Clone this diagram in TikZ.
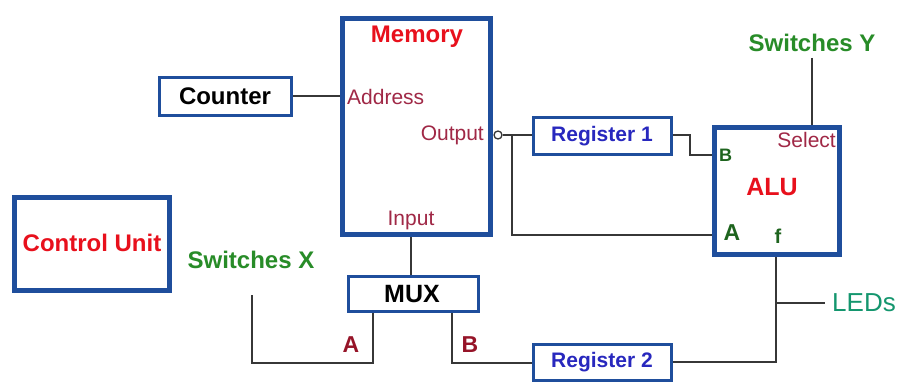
\documentclass[tikz,border=0pt]{standalone}
\usepackage{fontspec}
\setmainfont{Liberation Sans}
\definecolor{boxblue}{RGB}{31,78,156}
\definecolor{txtred}{RGB}{232,16,28}
\definecolor{swgreen}{RGB}{40,140,40}
\definecolor{portpink}{RGB}{160,40,70}
\definecolor{alugreen}{RGB}{30,100,30}
\definecolor{muxred}{RGB}{150,20,40}
\definecolor{regblue}{RGB}{40,40,190}
\definecolor{ledteal}{RGB}{20,150,110}
\definecolor{wire}{RGB}{55,55,55}
\tikzset{
  thickbox/.style={draw=boxblue, line width=5pt, fill=white, inner sep=0pt},
  thinbox/.style={draw=boxblue, line width=2.6pt, fill=white, inner sep=0pt},
  wireline/.style={draw=wire, line width=2pt},
  bigbold/.style={font=\fontsize{24}{26}\selectfont\bfseries, inner sep=0pt},
  regbold/.style={font=\fontsize{21}{23}\selectfont\bfseries, inner sep=0pt, text=regblue},
  portlbl/.style={font=\fontsize{21}{23}\selectfont, inner sep=0pt, text=portpink},
}
\begin{document}
\begin{tikzpicture}[x=1pt,y=-1pt]
\useasboundingbox[fill=white] (0,0) rectangle (904,385);
% boxes
\node[thickbox, minimum width=148pt, minimum height=216pt] (memory) at (416.5,126.5) {};
\node[thinbox, minimum width=132pt, minimum height=38pt] (counter) at (225.5,96.5) {};
\node[thickbox, minimum width=155pt, minimum height=93pt] (cu) at (92,244) {};
\node[thinbox, minimum width=138pt, minimum height=37pt] (reg1) at (602.5,136) {};
\node[thinbox, minimum width=138pt, minimum height=36pt] (reg2) at (602.5,362.5) {};
\node[thinbox, minimum width=130pt, minimum height=35pt] (mux) at (413.5,294) {};
\node[thickbox, minimum width=125pt, minimum height=127pt] (alu) at (777,191) {};
\node[circle, draw=wire, line width=1.3pt, fill=white, minimum size=8pt, inner sep=0pt] (outc) at (498,135) {};
% coordinates
\coordinate (j1) at (512,135);
\coordinate (j1b) at (512,235);
\coordinate (r1a) at (690,135);
\coordinate (r1b) at (690,155);
\coordinate (swy) at (812,58);
\coordinate (fbot) at (776,362);
\coordinate (ledj) at (776,303);
\coordinate (lede) at (825,303);
\coordinate (ma) at (373,363);
\coordinate (mxa) at (252,363);
\coordinate (swx) at (252,295);
\coordinate (mb) at (452,363);
% wires
\draw[wireline] (counter.east) -- (counter.east -| memory.west);
\draw[wireline] (outc.east) -- (outc.east -| reg1.west);
\draw[wireline] (j1) -- (j1b) -- (j1b -| alu.west);
\draw[wireline] (reg1.east |- r1a) -- (r1a) -- (r1b) -- (r1b -| alu.west);
\draw[wireline] (swy) -- (swy |- alu.north);
\draw[wireline] (fbot |- alu.south) -- (fbot) -- (fbot -| reg2.east);
\draw[wireline] (ledj) -- (lede);
\draw[wireline] (memory.south -| mux.north) ++(-2.5,0) coordinate (mi) -- (mi |- mux.north);
\draw[wireline] (ma |- mux.south) -- (ma) -- (mxa) -- (swx);
\draw[wireline] (mb |- mux.south) -- (mb) -- (mb -| reg2.west);
% redraw borders over wires
\node[thickbox, fill=none, minimum width=148pt, minimum height=216pt] at (memory) {};
\node[thickbox, fill=none, minimum width=125pt, minimum height=127pt] at (alu) {};
% texts
\node[bigbold, text=txtred] (tmem) at (417,37) {Memory};
\node[portlbl, anchor=west] (taddr) at (347,97) {Address};
\node[portlbl, anchor=east] (tout) at (484,135) {Output};
\node[portlbl] (tin) at (411,220) {Input};
\node[bigbold, text=black] (tcount) at (225,96) {Counter};
\node[bigbold, text=txtred] (tcu) at (92,243) {Control Unit};
\node[regbold] (tr1) at (602,136) {Register 1};
\node[regbold] (tr2) at (602,362) {Register 2};
\node[font=\fontsize{25}{27}\selectfont\bfseries, inner sep=0pt] (tmux) at (412,294) {MUX};
\node[bigbold, text=swgreen] (tswy) at (812,43) {Switches Y};
\node[bigbold, text=swgreen] (tswx) at (251,260) {Switches X};
\node[portlbl, anchor=east] (tsel) at (836,140) {Select};
\node[font=\fontsize{18}{20}\selectfont\bfseries, inner sep=0pt, text=alugreen, anchor=west] (tb) at (719,155) {B};
\node[font=\fontsize{25}{27}\selectfont\bfseries, inner sep=0pt, text=txtred] (talu) at (772,187) {ALU};
\node[font=\fontsize{23}{25}\selectfont\bfseries, inner sep=0pt, text=alugreen] (ta) at (732,233) {A};
\node[font=\fontsize{20}{22}\selectfont\bfseries, inner sep=0pt, text=alugreen] (tf) at (778,236) {f};
\node[font=\fontsize{26}{28}\selectfont, inner sep=0pt, text=ledteal, anchor=west] (tled) at (832,303) {LEDs};
\node[font=\fontsize{23}{25}\selectfont\bfseries, inner sep=0pt, text=muxred] (tma) at (351,345) {A};
\node[font=\fontsize{23}{25}\selectfont\bfseries, inner sep=0pt, text=muxred] (tmb) at (470,345) {B};
\end{tikzpicture}
\end{document}
